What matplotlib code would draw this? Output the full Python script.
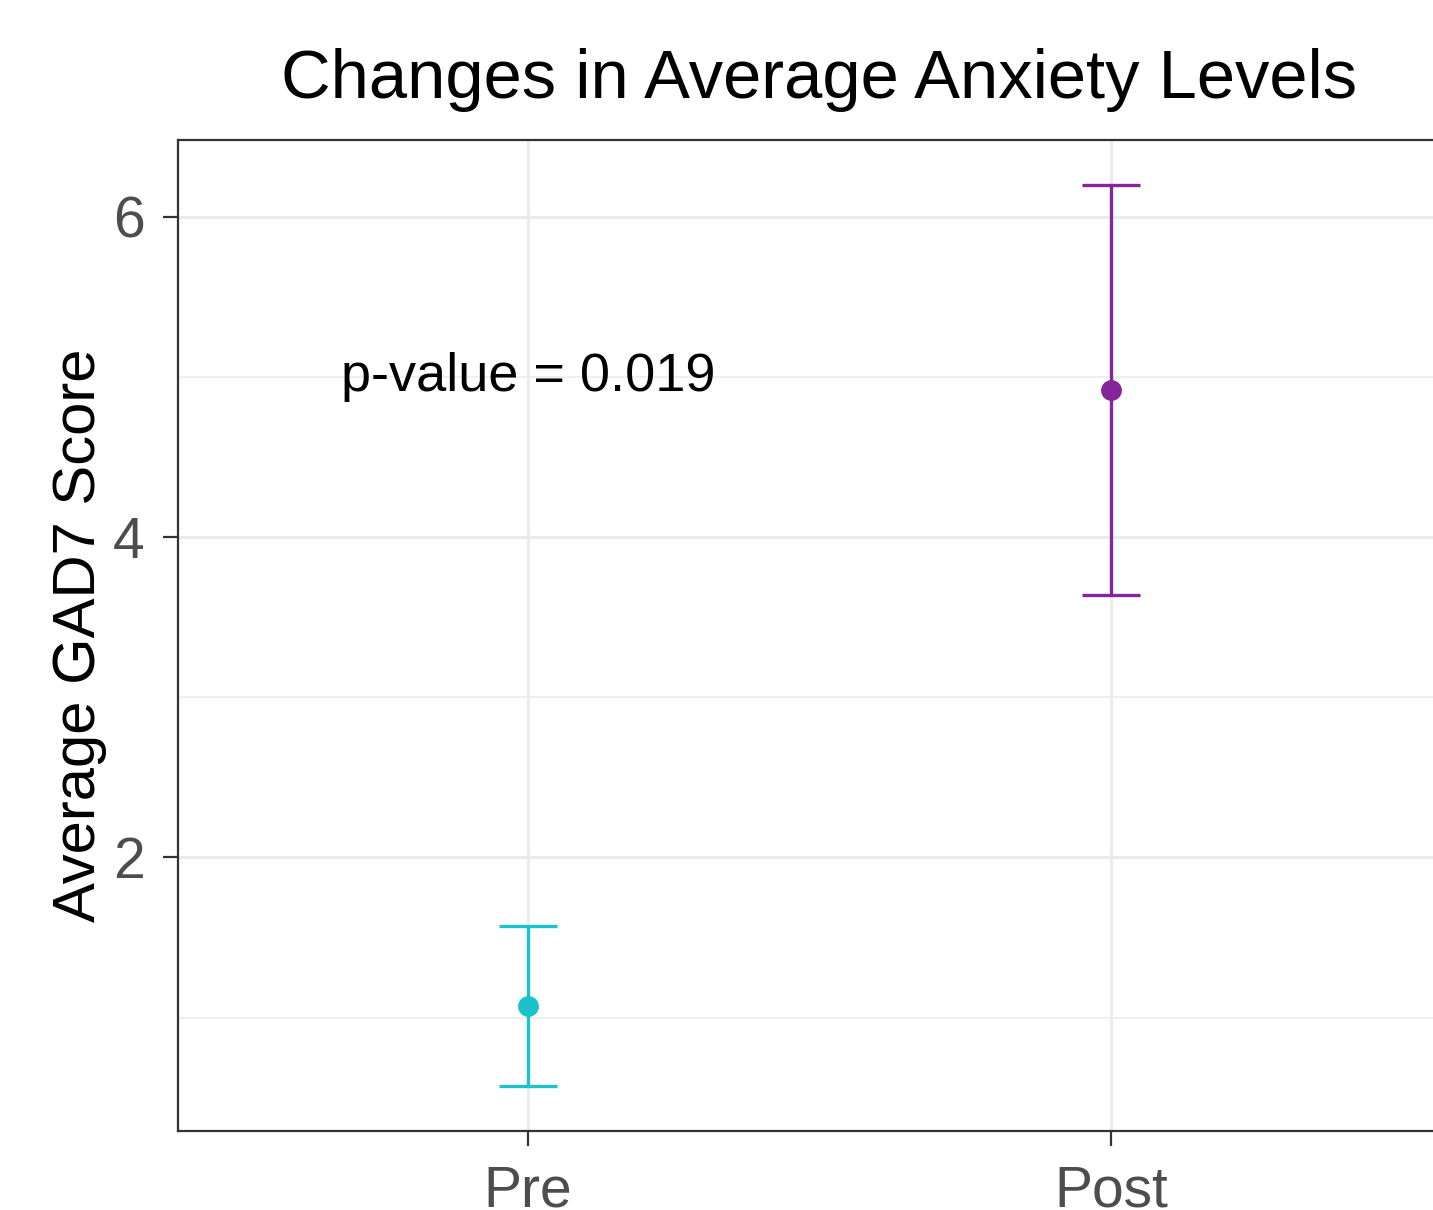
import matplotlib
matplotlib.use("Agg")
import matplotlib.pyplot as plt
from matplotlib.ticker import MultipleLocator

plt.rcParams['font.family'] = ['Liberation Sans', 'DejaVu Sans']

groups = ["Pre", "Post"]
means = [1.07, 4.92]
lower = [0.573, 3.64]
upper = [1.57, 6.20]
colors = ["#1CC2CA", "#86259A"]
p_text = "p-value = 0.019"

fig = plt.figure(figsize=(14.33, 12.10), dpi=100)
# panel runs past the right edge, like the cropped original
ax = fig.add_axes([178 / 1433, 1 - 1131 / 1210, (1461 - 178) / 1433, (1131 - 140) / 1210])

xs = list(range(1, len(groups) + 1))
for x, m, lo, hi, c in zip(xs, means, lower, upper, colors):
    ax.errorbar(x, m, yerr=[[m - lo], [hi - m]], color=c, lw=2.4,
                capsize=21, capthick=2.4, zorder=3)
    ax.plot(x, m, "o", color=c, ms=14, zorder=4)

ax.text(1, 5, p_text, ha="center", va="center", fontsize=39, color="black")

ax.set_xlim(0.4, 2.6)
ax.set_ylim(0.292, 6.48)
ax.set_xticks(xs)
ax.set_xticklabels(groups)
ax.yaxis.set_major_locator(MultipleLocator(2))
ax.yaxis.set_minor_locator(MultipleLocator(1))

ax.grid(True, which="major", color="#EBEBEB", lw=2.2)
ax.grid(True, which="minor", axis="y", color="#EBEBEB", lw=1.1)
ax.set_axisbelow(True)

for s in ax.spines.values():
    s.set_color("#333333")
    s.set_linewidth(1.6)

ax.tick_params(which="major", length=11, width=1.6, color="#333333",
               labelsize=41, labelcolor="#4D4D4D", pad=13)
ax.tick_params(which="minor", length=0)

ax.set_ylabel("Average GAD7 Score", fontsize=43, labelpad=4)
ax.set_title("Changes in Average Anxiety Levels", fontsize=49.5, pad=30)

fig.savefig("out.png", dpi=100)
